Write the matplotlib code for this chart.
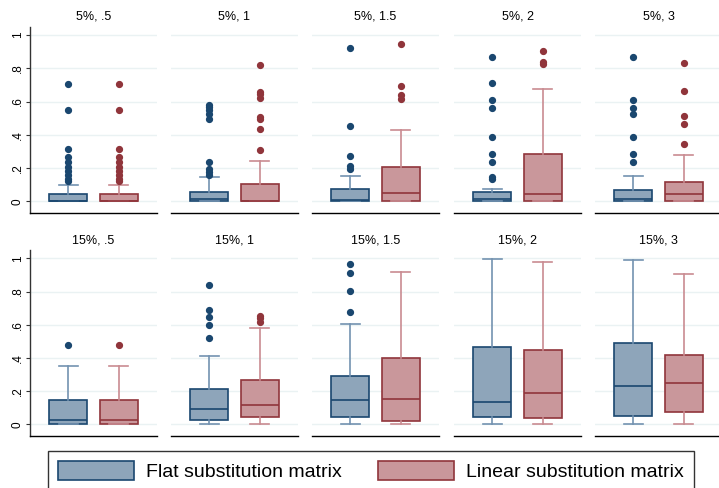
import matplotlib
matplotlib.use("Agg")
import matplotlib.pyplot as plt
from matplotlib.patches import Patch

plt.rcParams['font.family'] = ['Liberation Sans', 'DejaVu Sans']

# Panel titles (error rate, parameter)
titles = ["5%, .5", "5%, 1", "5%, 1.5", "5%, 2", "5%, 3",
          "15%, .5", "15%, 1", "15%, 1.5", "15%, 2", "15%, 3"]

# Flat substitution matrix: whisker low, q1, median, q3, whisker high, outliers
flat_lo = [0, 0, 0, 0, 0, 0, 0, 0, 0, 0]
flat_q1 = [0, 0, 0, 0.003, 0, 0.002, 0.026, 0.046, 0.042, 0.05]
flat_med = [0.004, 0.012, 0.005, 0.014, 0.014, 0.024, 0.09, 0.145, 0.136, 0.23]
flat_q3 = [0.046, 0.058, 0.074, 0.054, 0.066, 0.146, 0.21, 0.291, 0.464, 0.488]
flat_hi = [0.10, 0.146, 0.152, 0.072, 0.152, 0.35, 0.41, 0.604, 0.996, 0.99]
flat_out = [
    [0.12, 0.137, 0.157, 0.181, 0.207, 0.235, 0.267, 0.315, 0.552, 0.707],
    [0.161, 0.177, 0.197, 0.237, 0.492, 0.522, 0.548, 0.568, 0.582],
    [0.197, 0.213, 0.273, 0.454, 0.92],
    [0.136, 0.146, 0.237, 0.285, 0.384, 0.56, 0.61, 0.711, 0.867],
    [0.237, 0.285, 0.384, 0.524, 0.56, 0.61, 0.867],
    [0.48],
    [0.518, 0.596, 0.646, 0.687, 0.839],
    [0.676, 0.801, 0.91, 0.967],
    [],
    [],
]

# Linear substitution matrix
lin_lo = [0, 0, 0, 0.003, 0.003, 0, 0, 0, 0, 0]
lin_q1 = [0, 0, 0, 0.004, 0.004, 0.002, 0.046, 0.02, 0.036, 0.072]
lin_med = [0.004, 0.004, 0.048, 0.046, 0.042, 0.024, 0.118, 0.154, 0.187, 0.246]
lin_q3 = [0.046, 0.107, 0.209, 0.285, 0.114, 0.146, 0.265, 0.399, 0.448, 0.42]
lin_hi = [0.10, 0.241, 0.43, 0.677, 0.279, 0.35, 0.582, 0.919, 0.978, 0.908]
lin_out = [
    [0.12, 0.137, 0.157, 0.181, 0.207, 0.235, 0.267, 0.315, 0.552, 0.707],
    [0.311, 0.432, 0.494, 0.504, 0.622, 0.643, 0.655, 0.821],
    [0.616, 0.637, 0.693, 0.944],
    [0.827, 0.839, 0.904],
    [0.343, 0.464, 0.514, 0.663, 0.829],
    [0.48],
    [0.618, 0.638, 0.654],
    [],
    [],
    [],
]

yticks = [0, 0.2, 0.4, 0.6, 0.8, 1]
ytick_labels = ["0", ".2", ".4", ".6", ".8", "1"]

# Colours
flat_edge, flat_fill, flat_whisk = '#1a476f', '#8ea5ba', '#7392b0'
lin_edge, lin_fill, lin_whisk = '#90353b', '#c9979b', '#c98b91'

W, H = 719, 488
fig = plt.figure(figsize=(W / 100, H / 100), dpi=100)

lefts = [30, 171, 312, 454, 595]
pw = 127
ymin, ymax = -0.07, 1.05
row_zero = [201.3, 424.3]
row_scale = [166.3, 166.0]


def stat(lo, q1, med, q3, hi, out):
    return dict(whislo=lo, q1=q1, med=med, q3=q3, whishi=hi, fliers=out)


for i, title in enumerate(titles):
    r, c = divmod(i, 5)
    bottom_px = row_zero[r] - ymin * row_scale[r]
    top_px = row_zero[r] - ymax * row_scale[r]
    ax = fig.add_axes([lefts[c] / W, 1 - bottom_px / H, pw / W, (bottom_px - top_px) / H])

    for pos, st, edge, fill, wcol in [
        (0.3, stat(flat_lo[i], flat_q1[i], flat_med[i], flat_q3[i], flat_hi[i], flat_out[i]),
         flat_edge, flat_fill, flat_whisk),
        (0.7, stat(lin_lo[i], lin_q1[i], lin_med[i], lin_q3[i], lin_hi[i], lin_out[i]),
         lin_edge, lin_fill, lin_whisk),
    ]:
        ax.bxp([st], positions=[pos], widths=0.3, patch_artist=True, showfliers=True,
               boxprops=dict(facecolor=fill, edgecolor=edge, linewidth=1.2),
               medianprops=dict(color=edge, linewidth=1.2),
               whiskerprops=dict(color=wcol, linewidth=1.2),
               capprops=dict(color=wcol, linewidth=1.2),
               capwidths=0.15,
               flierprops=dict(marker='o', markerfacecolor=edge, markeredgecolor=edge,
                               markersize=4.2, linestyle='none'),
               manage_ticks=False, zorder=3)

    ax.set_xlim(0, 1)
    ax.set_ylim(ymin, ymax)
    ax.set_yticks(yticks)
    ax.set_xticks([])
    ax.grid(axis='y', color='#eaf2f3', linewidth=1, zorder=0)
    ax.set_axisbelow(True)
    for s in ['top', 'right']:
        ax.spines[s].set_visible(False)
    ax.spines['bottom'].set_color('black')
    ax.spines['bottom'].set_linewidth(1)
    if c == 0:
        ax.spines['left'].set_color('#333333')
        ax.spines['left'].set_linewidth(1)
        ax.set_yticklabels(ytick_labels, rotation=90, va='center', fontsize=8.5)
        ax.tick_params(axis='y', length=3, width=0.8, pad=1.5, color='#333333')
    else:
        ax.spines['left'].set_visible(False)
        ax.tick_params(axis='y', length=0, labelleft=False)
    ax.set_title(title, fontsize=9, pad=5)

handles = [Patch(facecolor=flat_fill, edgecolor=flat_edge, linewidth=1.2, label='Flat substitution matrix'),
           Patch(facecolor=lin_fill, edgecolor=lin_edge, linewidth=1.2, label='Linear substitution matrix')]
leg = fig.legend(handles=handles, loc='upper center', bbox_to_anchor=(371 / W, 1 - 451 / H),
                 ncol=2, fontsize=14, frameon=True, fancybox=False, edgecolor='black',
                 handlelength=3.9, handleheight=1.12, handletextpad=0.64, columnspacing=1.87,
                 borderpad=0.5, borderaxespad=0)
leg.get_frame().set_linewidth(1)

plt.savefig("out.png", dpi=100)
